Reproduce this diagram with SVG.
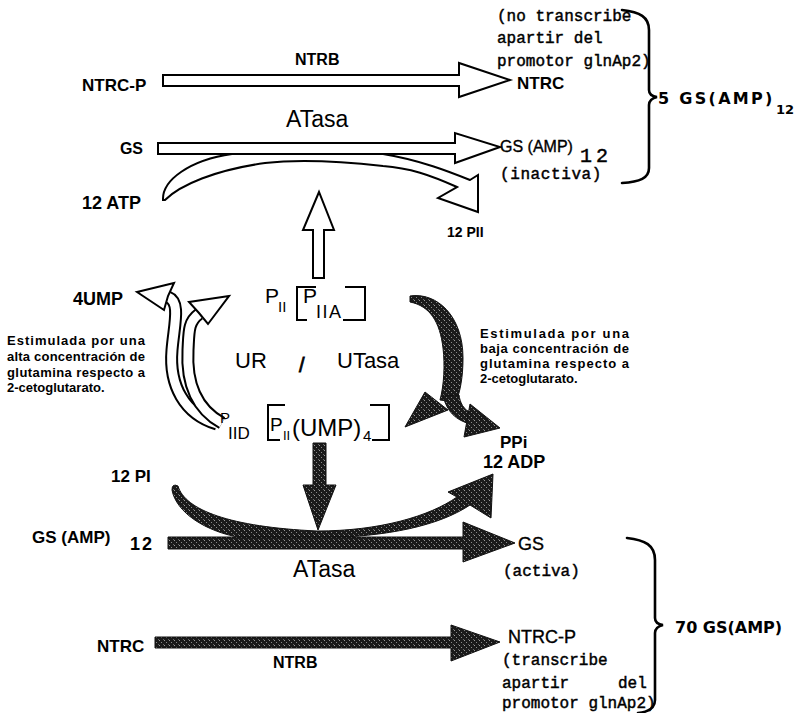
<svg xmlns="http://www.w3.org/2000/svg" width="801" height="713" viewBox="0 0 801 713">
<defs>
<pattern id="speck" width="5" height="5" patternUnits="userSpaceOnUse">
<rect width="5" height="5" fill="#1a1a1a"/>
<rect x="1" y="2" width="1" height="1" fill="#8a8a8a"/>
<rect x="3" y="4" width="1" height="1" fill="#666"/>
<rect x="4" y="0" width="1" height="1" fill="#9a9a9a"/>
</pattern>
<style>
text{font-family:"Liberation Sans",Arial,sans-serif;fill:#000}
.b{font-weight:bold;font-size:17px}
.m{font-size:18px;stroke:#000;stroke-width:0.35}
.big{font-size:23px}
.mono{font-family:"Liberation Mono","Courier New",monospace;font-size:16px;stroke:#000;stroke-width:0.45}
.cap{font-weight:bold;font-size:13px}
.tot{font-family:"DejaVu Sans",sans-serif;font-weight:bold;font-size:16px}
.ho{fill:#fff;stroke:#000;stroke-width:2;stroke-linejoin:miter}
.dk{fill:url(#speck);stroke:#111;stroke-width:1}
.br{fill:none;stroke:#000;stroke-width:2}
.brace{fill:none;stroke:#000;stroke-width:2.6;stroke-linecap:round}
.bandK{fill:none;stroke:#000;stroke-width:13}
.bandW{fill:none;stroke:#fff;stroke-width:9}
</style>
</defs>
<rect width="801" height="713" fill="#fff"/>

<g id="connectors">
<path class="ho" d="M163,200 C162,180 190,160 232,154 L383,154 C420,160 450,172 470,180 L478,175 L478,212 L438,198 L457,187 C430,175 410,168 383,166 C330,160 290,160 265,163 C215,170 180,185 165,200 Z"/>
<polygon class="ho" points="163,75 459,75 459,63 510,80 459,97 459,86 163,86"/>
<polygon class="ho" points="158,143 455,143 455,133 500,147 455,163 455,154 158,154"/>
<polygon class="ho" points="313,278 313,230 303,230 319,192 334,230 324,230 324,278"/>
<path class="bandK" d="M217,424 C184,414 169,385 172,350 C174,325 181,302 168,297"/>
<path class="bandW" d="M217,424 C184,414 169,385 172,350 C174,325 181,302 168,297"/>
<polygon class="ho" points="137,292 174,283 168,296 164,310"/>
<path class="bandK" d="M222,423 C198,410 186,385 188,350 C189,332 188,322 199,314"/>
<path class="bandW" d="M222,423 C198,410 186,385 188,350 C189,332 188,322 199,314"/>
<polygon class="ho" points="229,296 189,302 199,313 208,324"/>
<path class="dk" d="M410,296 C437,292 463,316 463,358 C463,378 460,392 456,402 L440,400 C444,385 445,365 443,348 C440,322 430,306 410,302 Z"/>
<polygon class="dk" points="405,427 425,392 448,410"/>
<path class="dk" d="M443,396 C447,412 456,420 470,424 L472,413 C463,410 460,402 459,395 Z"/>
<polygon class="dk" points="500,428 470,404 464,437"/>
<path class="dk" d="M178,486 C185,510 230,527 317,531 C380,531 430,516 457,497 L448,492 L493,474 L491,518 L470,505 C440,525 390,537 317,538 L243,538 C205,532 176,512 172,490 Q172,483 178,486 Z"/>
<polygon class="dk" points="313,443 326,443 326,485 336,485 318,530 303,485 313,485"/>
<polygon class="dk" points="168,537 463,537 463,522 515,543 463,562 463,549 168,549"/>
<polygon class="dk" points="155,637 451,637 451,625 500,642 451,661 451,648 155,648"/>
<path class="brace" d="M622,10 C640,12 649,17 649,30 L649,90 Q649,96 657,97 Q649,99 649,105 L649,168 C649,178 640,182 622,183"/>
<path class="brace" d="M627,538 C645,540 655,545 655,560 L655,618 Q655,624 663,625 Q655,627 655,633 L655,700 C655,708 648,712 638,713"/>
</g>

<g id="top-reaction">
<text class="b" x="295" y="65" style="font-size:16px">NTRB</text>
<text class="b" x="82" y="91">NTRC-P</text>
<text class="big" x="286" y="127">ATasa</text>
<text class="b" x="143" y="154" text-anchor="end" style="font-size:16px">GS</text>
<text class="b" x="82" y="209" style="font-size:18px">12 ATP</text>
<text class="b" x="517" y="89">NTRC</text>
<text class="m" x="500" y="152" style="font-size:16px">GS (AMP)</text>
<text class="mono" x="580" y="162" style="font-size:20px;letter-spacing:4px">12</text>
<text class="mono" x="500" y="179" style="letter-spacing:0.6px">(inactiva)</text>
<text class="b" x="447" y="237" style="font-size:14px">12 PII</text>
<text class="mono" x="497" y="21">(no transcribe</text>
<text class="mono" x="497" y="43">apartir del</text>
<text class="mono" x="497" y="66">promotor glnAp2)</text>
<text class="tot" x="658" y="104" style="letter-spacing:2.3px">5 GS(AMP)</text>
<text class="tot" x="776" y="114" style="font-size:13px">12</text>
</g>

<g id="pii-cycle">
<text class="b" x="73" y="305" style="font-size:18px">4UMP</text>
<text class="big" x="265" y="303" style="font-size:21px">P</text>
<text class="big" x="278" y="312" style="font-size:15px">II</text>
<path class="br" d="M316,287 L297,287 L297,320 L307,320 M345,287 L365,287 L365,320 L343,320"/>
<text class="big" x="303" y="303" style="font-size:21px">P</text>
<text class="big" x="316" y="318" style="font-size:18px;letter-spacing:1.5px">IIA</text>
<text class="big" x="235" y="368" style="font-size:22px">UR</text>
<text class="big" x="299" y="372" style="font-size:20px;stroke:#000;stroke-width:0.8">/</text>
<text class="big" x="337" y="368" style="font-size:22px">UTasa</text>
<text class="big" x="220" y="423" style="font-size:15px">P</text>
<text class="big" x="228" y="439" style="font-size:17px">IID</text>
<path class="br" d="M285,405 L268,405 L268,440 L280,440 M370,405 L389,405 L389,440 L372,440"/>
<text class="big" x="270" y="431" style="font-size:19px">P</text>
<text class="big" x="283" y="440" style="font-size:13px">II</text>
<text class="big" x="292" y="436" style="font-size:24px">(UMP)</text>
<text class="big" x="363" y="441" style="font-size:15px">4</text>
<text class="b" x="500" y="448">PPi</text>
</g>

<g id="caption-left">
<text class="cap" x="7" y="345" textLength="138" lengthAdjust="spacing">Estimulada por una</text>
<text class="cap" x="7" y="361" textLength="138" lengthAdjust="spacing">alta concentración de</text>
<text class="cap" x="7" y="377" textLength="138" lengthAdjust="spacing">glutamina respecto a</text>
<text class="cap" x="7" y="392">2-cetoglutarato.</text>
</g>

<g id="caption-right">
<text class="cap" x="480" y="338" textLength="149" lengthAdjust="spacing">Estimulada por una</text>
<text class="cap" x="480" y="353" textLength="149" lengthAdjust="spacing">baja concentración de</text>
<text class="cap" x="480" y="368" textLength="149" lengthAdjust="spacing">glutamina respecto a</text>
<text class="cap" x="480" y="383">2-cetoglutarato.</text>
</g>

<g id="bottom-reaction">
<text class="b" x="483" y="468" style="font-size:18px">12 ADP</text>
<text class="b" x="111" y="482">12 PI</text>
<text class="b" x="32" y="543">GS (AMP)</text>
<text class="b" x="130" y="550" style="font-size:18px;letter-spacing:2px">12</text>
<text class="big" x="293" y="577">ATasa</text>
<text class="m" x="518" y="550">GS</text>
<text class="mono" x="503" y="576">(activa)</text>
<text class="b" x="97" y="652">NTRC</text>
<text class="b" x="273" y="668" style="font-size:16px">NTRB</text>
<text class="m" x="508" y="643">NTRC-P</text>
<text class="mono" x="502" y="665">(transcribe</text>
<text class="mono" x="502" y="688">apartir</text>
<text class="mono" x="618" y="688">del</text>
<text class="mono" x="502" y="708">promotor glnAp2)</text>
<text class="tot" x="675" y="633">70 GS(AMP)</text>
</g>
</svg>
